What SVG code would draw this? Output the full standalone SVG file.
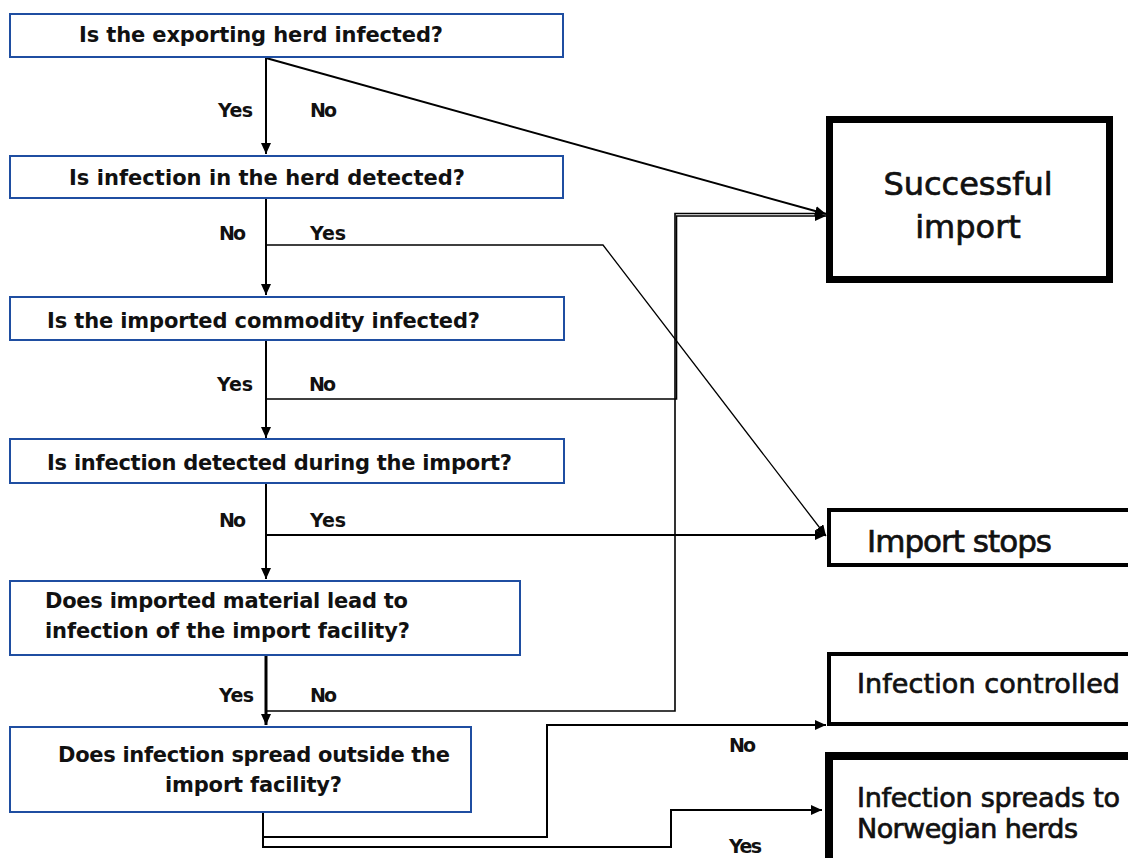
<svg xmlns="http://www.w3.org/2000/svg" width="1128" height="858" viewBox="0 0 1128 858">
<style>
.q{fill:#fff;stroke:#1f4ea1;stroke-width:2}
.o{fill:#fff;stroke:#000}
.qt{font-family:"DejaVu Sans",sans-serif;font-weight:bold;font-size:21px;fill:#111}
.lb{font-family:"DejaVu Sans",sans-serif;font-weight:bold;font-size:19px;fill:#111}
.ot{font-family:"DejaVu Sans",sans-serif;font-size:27px;fill:#111;stroke:#111;stroke-width:0.7}
.c{fill:none;stroke:#000;stroke-width:2}
</style>
<defs>
<marker id="ah" markerUnits="userSpaceOnUse" markerWidth="12" markerHeight="10" refX="11" refY="5" orient="auto">
<path d="M0,0 L11,5 L0,10 z" fill="#000"/>
</marker>
</defs>
<rect width="1128" height="858" fill="#fff"/>

<g id="connectors">
<path class="c" d="M266,58 V154" marker-end="url(#ah)"/>
<path class="c" d="M266,58 L826,214" marker-end="url(#ah)"/>
<path class="c" d="M266,199 V295" marker-end="url(#ah)"/>
<path class="c" style="stroke-width:1.3" d="M266,245 H603 L826,536" marker-end="url(#ah)"/>
<path class="c" d="M266,341 V438" marker-end="url(#ah)"/>
<path class="c" style="stroke-width:1.6" d="M266,399 H676.5 V216 H826" marker-end="url(#ah)"/>
<path class="c" style="stroke-width:1.6" d="M266,711 H675 V213.5 H826"/>
<path class="c" d="M266,484 V579" marker-end="url(#ah)"/>
<path class="c" d="M266,535 H826" marker-end="url(#ah)"/>
<path class="c" style="stroke-width:3" d="M266,656 V725" marker-end="url(#ah)"/>
<path class="c" d="M263,812 V847 H671 V810 H822" marker-end="url(#ah)"/>
<path class="c" d="M263,837 H547 V725 H826" marker-end="url(#ah)"/>
<g class="lb">
<text x="218" y="117" textLength="35">Yes</text>
<text x="310" y="117" textLength="27">No</text>
<text x="219" y="240" textLength="27">No</text>
<text x="310" y="240" textLength="36">Yes</text>
<text x="217" y="391" textLength="36">Yes</text>
<text x="309" y="391" textLength="27">No</text>
<text x="219" y="527" textLength="27">No</text>
<text x="310" y="527" textLength="36">Yes</text>
<text x="219" y="702" textLength="35">Yes</text>
<text x="310" y="702" textLength="27">No</text>
<text x="729" y="752" textLength="27">No</text>
<text x="729" y="853" textLength="33">Yes</text>
</g>
</g>

<g id="q1">
<rect class="q" x="10" y="14" width="553" height="43"/>
<text class="qt" x="79" y="42" textLength="364">Is the exporting herd infected?</text>
</g>
<g id="q2">
<rect class="q" x="10" y="156" width="553" height="42"/>
<text class="qt" x="69" y="185" textLength="396">Is infection in the herd detected?</text>
</g>
<g id="q3">
<rect class="q" x="10" y="297" width="554" height="43"/>
<text class="qt" x="47" y="328" textLength="433">Is the imported commodity infected?</text>
</g>
<g id="q4">
<rect class="q" x="10" y="439" width="554" height="44"/>
<text class="qt" x="47" y="470" textLength="465">Is infection detected during the import?</text>
</g>
<g id="q5">
<rect class="q" x="10" y="581" width="510" height="74"/>
<text class="qt" x="45" y="608" textLength="363">Does imported material lead to</text>
<text class="qt" x="45" y="638" textLength="365">infection of the import facility?</text>
</g>
<g id="q6">
<rect class="q" x="10" y="727" width="461" height="85"/>
<text class="qt" x="58" y="762" textLength="392">Does infection spread outside the</text>
<text class="qt" x="165" y="792" textLength="177">import facility?</text>
</g>

<g id="successful-import">
<rect class="o" x="829.5" y="119.5" width="280" height="160" stroke-width="7"/>
<text class="ot" x="968" y="195" text-anchor="middle" style="font-size:32px">Successful</text>
<text class="ot" x="968" y="238" text-anchor="middle" style="font-size:32px">import</text>
</g>
<g id="import-stops">
<rect class="o" x="829" y="510" width="320" height="55" stroke-width="4"/>
<text class="ot" x="867" y="552" style="font-size:31px" textLength="185">Import stops</text>
</g>
<g id="infection-controlled">
<rect class="o" x="829" y="654" width="320" height="70" stroke-width="4"/>
<text class="ot" x="857" y="693" textLength="263">Infection controlled</text>
</g>
<g id="infection-spreads">
<rect class="o" x="829" y="756" width="320" height="120" stroke-width="8"/>
<text class="ot" x="857" y="807" textLength="263">Infection spreads to</text>
<text class="ot" x="857" y="838" textLength="221">Norwegian herds</text>
</g>
</svg>
